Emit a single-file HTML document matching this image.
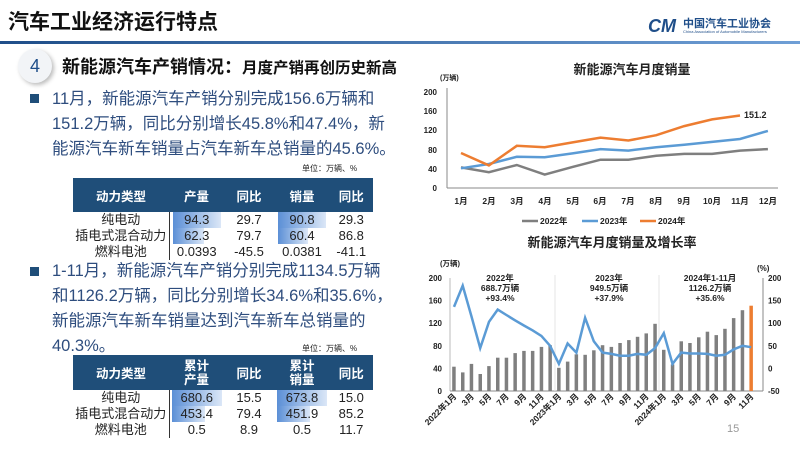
<!DOCTYPE html>
<html><head><meta charset="utf-8"><style>
body{margin:0;width:800px;height:449px;overflow:hidden;background:#fff;font-family:"Liberation Sans","Noto Sans CJK SC",sans-serif;position:relative}
.a{position:absolute;white-space:nowrap}
.txt{color:#2e4d7e;font-size:16.5px;line-height:25px}
table{position:absolute;border-collapse:collapse;font-size:13px;color:#222;text-align:center}
th{background:#1f4e79;color:#fff;font-weight:bold;font-size:12.5px}
td{padding:0;height:16px;line-height:16px}
td.f{border-right:1px solid #333}
.b{background:linear-gradient(90deg,#5b8fd6,#dbe7f7)}
</style></head><body>
<div class="a" style="left:8px;top:6px;font-size:21px;font-weight:bold;color:#111">汽车工业经济运行特点</div>
<div class="a" style="left:648px;top:16px;font-size:18px;font-weight:bold;color:#1f4e89;font-style:italic">CM</div>
<div class="a" style="left:683px;top:15px;font-size:11px;font-weight:bold;color:#1f4e89">中国汽车工业协会</div>
<div class="a" style="left:683px;top:29px;font-size:4px;color:#1f4e89">China Association of Automobile Manufacturers</div>
<div class="a" style="left:0;top:41px;width:800px;height:3px;background:linear-gradient(90deg,#1f4e89,#6f9fd6)"></div>
<div class="a" style="left:18px;top:49px;width:34px;height:34px;border-radius:50%;background:#f2f4f7;box-shadow:2px 2px 4px #bbb;text-align:center;line-height:34px;font-size:18px;color:#1f4e89">4</div>
<div class="a" style="left:62px;top:53px;font-size:18px;font-weight:bold;color:#111">新能源汽车产销情况：<span style="font-size:15.5px">月度产销再创历史新高</span></div>
<div class="a" style="left:30px;top:94px;width:9px;height:9px;background:#1f4e79"></div>
<div class="a txt" style="left:52px;top:87px">11月，新能源汽车产销分别完成156.6万辆和<br>151.2万辆，同比分别增长45.8%和47.4%，新<br>能源汽车新车销量占汽车新车总销量的45.6%。</div>
<div class="a" style="left:302px;top:163px;font-size:8px;color:#222">单位：万辆、%</div>
<table style="left:73px;top:178px;width:300px">
<tr style="height:34px"><th style="width:94px">动力类型</th><th style="width:53px">产量</th><th style="width:48px">同比</th><th style="width:54px">销量</th><th>同比</th></tr>
<tr><td class="f">纯电动</td><td><span class="b" style="display:inline-block;width:48px">94.3</span></td><td>29.7</td><td><span class="b" style="display:inline-block;width:48px">90.8</span></td><td>29.3</td></tr>
<tr><td class="f">插电式混合动力</td><td><span style="display:inline-block;width:48px;background:linear-gradient(90deg,#5b8fd6 0,#dbe7f7 65%,#fff 65%)">62.3</span></td><td>79.7</td><td><span style="display:inline-block;width:48px;background:linear-gradient(90deg,#5b8fd6 0,#dbe7f7 62%,#fff 62%)">60.4</span></td><td>86.8</td></tr>
<tr><td class="f">燃料电池</td><td>0.0393</td><td>-45.5</td><td>0.0381</td><td>-41.1</td></tr>
</table>
<div class="a" style="left:30px;top:267px;width:9px;height:9px;background:#1f4e79"></div>
<div class="a txt" style="left:52px;top:259px">1-11月，新能源汽车产销分别完成1134.5万辆<br>和1126.2万辆，同比分别增长34.6%和35.6%，<br>新能源汽车新车销量达到汽车新车总销量的<br>40.3%。</div>
<div class="a" style="left:302px;top:343px;font-size:8px;color:#222">单位：万辆、%</div>
<table style="left:73px;top:355px;width:300px">
<tr style="height:35px"><th style="width:94px">动力类型</th><th style="width:53px;line-height:14px">累计<br>产量</th><th style="width:48px">同比</th><th style="width:54px;line-height:14px">累计<br>销量</th><th>同比</th></tr>
<tr><td class="f">纯电动</td><td><span class="b" style="display:inline-block;width:50px">680.6</span></td><td>15.5</td><td><span class="b" style="display:inline-block;width:50px">673.8</span></td><td>15.0</td></tr>
<tr><td class="f">插电式混合动力</td><td><span style="display:inline-block;width:50px;background:linear-gradient(90deg,#5b8fd6 0,#dbe7f7 66%,#fff 66%)">453.4</span></td><td>79.4</td><td><span style="display:inline-block;width:50px;background:linear-gradient(90deg,#5b8fd6 0,#dbe7f7 66%,#fff 66%)">451.9</span></td><td>85.2</td></tr>
<tr><td class="f">燃料电池</td><td>0.5</td><td>8.9</td><td>0.5</td><td>11.7</td></tr>
</table>

<svg class="a" style="left:0;top:0" width="800" height="449" font-family="Liberation Sans,Noto Sans CJK SC,sans-serif">
<g font-size="13" font-weight="bold" fill="#222" text-anchor="middle"><text x="632" y="74">新能源汽车月度销量</text><text x="612" y="247">新能源汽车月度销量及增长率</text></g>
<!-- chart1 -->
<text x="440" y="80" font-size="7" font-weight="bold" fill="#222">(万辆)</text>
<g font-size="8" font-weight="bold" fill="#222" text-anchor="end">
<text x="437" y="95">200</text><text x="437" y="114">160</text><text x="437" y="133">120</text><text x="437" y="153">80</text><text x="437" y="172">40</text><text x="437" y="191">0</text></g>
<line x1="447" y1="88" x2="447" y2="188" stroke="#888"/><line x1="447" y1="188" x2="778" y2="188" stroke="#888"/>
<g font-size="8.5" font-weight="bold" fill="#222" text-anchor="middle">
<text x="461" y="204">1月</text><text x="489" y="204">2月</text><text x="517" y="204">3月</text><text x="545" y="204">4月</text><text x="573" y="204">5月</text><text x="600" y="204">6月</text><text x="628" y="204">7月</text><text x="656" y="204">8月</text><text x="684" y="204">9月</text><text x="712" y="204">10月</text><text x="740" y="204">11月</text><text x="768" y="204">12月</text></g>
<polyline fill="none" stroke="#7f7f7f" stroke-width="2.5" points="461,167.4 488.9,172.2 516.8,165 544.7,174.6 572.6,166.9 600.5,159.7 628.4,159.7 656.3,155.8 684.2,153.9 712.1,153.9 740,150.6 767.9,149.1"/>
<polyline fill="none" stroke="#5b9bd5" stroke-width="2.5" points="461,168.3 488.9,164 516.8,156.8 544.7,157.3 572.6,153.4 600.5,149.1 628.4,150.6 656.3,147.2 684.2,144.8 712.1,141.9 740,139 767.9,130.9"/>
<polyline fill="none" stroke="#ed7d31" stroke-width="2.5" points="461,153 488.9,165.4 516.8,145.8 544.7,147.2 572.6,142.4 600.5,137.6 628.4,140.5 656.3,135.2 684.2,126.1 712.1,119.4 740,115.5"/>
<text x="744" y="118" font-size="9" font-weight="bold" fill="#222">151.2</text>
<g font-size="8.5" font-weight="bold" fill="#222">
<line x1="522" y1="221" x2="538" y2="221" stroke="#7f7f7f" stroke-width="2.5"/><text x="540" y="224">2022年</text>
<line x1="582" y1="221" x2="598" y2="221" stroke="#5b9bd5" stroke-width="2.5"/><text x="600" y="224">2023年</text>
<line x1="640" y1="221" x2="656" y2="221" stroke="#ed7d31" stroke-width="2.5"/><text x="658" y="224">2024年</text></g>
<!-- chart2 -->
<text x="440" y="266" font-size="7.5" font-weight="bold" fill="#222">(万辆)</text>
<text x="757" y="271" font-size="8" font-weight="bold" fill="#222">(%)</text>
<g font-size="8" font-weight="bold" fill="#222" text-anchor="end">
<text x="442" y="281">200</text><text x="442" y="303.6">160</text><text x="442" y="326.2">120</text><text x="442" y="348.8">80</text><text x="442" y="371.4">40</text><text x="442" y="394">0</text></g>
<g font-size="8" font-weight="bold" fill="#222" text-anchor="start">
<text x="768" y="281">200</text><text x="768" y="303.6">150</text><text x="768" y="326.2">100</text><text x="768" y="348.8">50</text><text x="768" y="371.4">0</text><text x="768" y="394">-50</text></g>
<line x1="450" y1="278" x2="450" y2="391" stroke="#bbb"/><line x1="763" y1="278" x2="763" y2="391" stroke="#888"/>
<line x1="450" y1="391" x2="763" y2="391" stroke="#888"/>
<line x1="555" y1="275" x2="555" y2="391" stroke="#e4e4e4"/><line x1="659" y1="275" x2="659" y2="391" stroke="#e4e4e4"/>
<g fill="#7f7f7f">
<rect x="452.2" y="366.7" width="3.5" height="24.3"/><rect x="461" y="372.4" width="3.5" height="18.6"/><rect x="469.7" y="363.9" width="3.5" height="27.1"/><rect x="478.5" y="374" width="3.5" height="17"/><rect x="487.2" y="366.1" width="3.5" height="24.9"/><rect x="496" y="357.7" width="3.5" height="33.3"/><rect x="504.7" y="357.7" width="3.5" height="33.3"/><rect x="513.4" y="353.1" width="3.5" height="37.9"/><rect x="522.2" y="350.9" width="3.5" height="40.1"/><rect x="530.9" y="350.9" width="3.5" height="40.1"/><rect x="539.7" y="346.9" width="3.5" height="44.1"/><rect x="548.4" y="345.2" width="3.5" height="45.8"/>
<rect x="557.1" y="367.8" width="3.5" height="23.2"/><rect x="565.9" y="361.6" width="3.5" height="29.4"/><rect x="574.6" y="354.3" width="3.5" height="36.7"/><rect x="583.4" y="354.8" width="3.5" height="36.2"/><rect x="592.1" y="350.3" width="3.5" height="40.7"/><rect x="600.8" y="345.2" width="3.5" height="45.8"/><rect x="609.6" y="346.9" width="3.5" height="44.1"/><rect x="618.3" y="343" width="3.5" height="48"/><rect x="627.1" y="340.1" width="3.5" height="50.9"/><rect x="635.8" y="336.8" width="3.5" height="54.2"/><rect x="644.5" y="333.4" width="3.5" height="57.6"/><rect x="653.3" y="323.8" width="3.5" height="67.2"/>
<rect x="662" y="349.8" width="3.5" height="41.2"/><rect x="670.8" y="364.4" width="3.5" height="26.6"/><rect x="679.5" y="341.3" width="3.5" height="49.7"/><rect x="688.2" y="343" width="3.5" height="48"/><rect x="697" y="337.3" width="3.5" height="53.7"/><rect x="705.7" y="331.7" width="3.5" height="59.3"/><rect x="714.5" y="335.1" width="3.5" height="55.9"/><rect x="723.2" y="328.8" width="3.5" height="62.2"/><rect x="731.9" y="318.1" width="3.5" height="72.9"/><rect x="740.7" y="310.2" width="3.5" height="80.8"/></g>
<rect x="749.4" y="305.7" width="3.5" height="85.3" fill="#ed7d31"/>
<polyline fill="none" stroke="#5b9bd5" stroke-width="2.5" points="454,306.9 462.7,285.7 471.5,316.5 480.2,348.1 489,321.8 497.7,309.6 506.4,315 515.2,320.4 523.9,325.5 532.7,330.4 541.4,335.9 550.1,345.8 558.9,363.9 567.6,343.5 576.4,352.6 585.1,317.8 593.8,341.3 602.6,352.6 611.3,353.9 620.1,355.7 628.8,355.7 637.5,353.9 646.3,354.8 655,348.1 663.8,333.1 672.5,363.9 681.2,352.6 690,353.5 698.7,353.5 707.5,353.9 716.2,355.7 724.9,354.8 733.7,349.4 742.4,345.8 751.2,347.2"/>
<g font-size="8.5" font-weight="bold" fill="#222" text-anchor="middle">
<text x="500" y="281">2022年</text><text x="500" y="291">688.7万辆</text><text x="500" y="301">+93.4%</text>
<text x="609" y="281">2023年</text><text x="609" y="291">949.5万辆</text><text x="609" y="301">+37.9%</text>
<text x="710" y="281">2024年1-11月</text><text x="710" y="291">1126.2万辆</text><text x="710" y="301">+35.6%</text></g>
<g font-size="8.5" font-weight="bold" fill="#222" text-anchor="end">
<text transform="translate(457,397) rotate(-45)">2022年1月</text><text transform="translate(474.5,397) rotate(-45)">3月</text><text transform="translate(492,397) rotate(-45)">5月</text><text transform="translate(509.4,397) rotate(-45)">7月</text><text transform="translate(527,397) rotate(-45)">9月</text><text transform="translate(544.4,397) rotate(-45)">11月</text>
<text transform="translate(562,397) rotate(-45)">2023年1月</text><text transform="translate(579.4,397) rotate(-45)">3月</text><text transform="translate(597,397) rotate(-45)">5月</text><text transform="translate(614.3,397) rotate(-45)">7月</text><text transform="translate(631.8,397) rotate(-45)">9月</text><text transform="translate(649.3,397) rotate(-45)">11月</text>
<text transform="translate(666.8,397) rotate(-45)">2024年1月</text><text transform="translate(684.2,397) rotate(-45)">3月</text><text transform="translate(701.7,397) rotate(-45)">5月</text><text transform="translate(719.2,397) rotate(-45)">7月</text><text transform="translate(736.7,397) rotate(-45)">9月</text><text transform="translate(754.2,397) rotate(-45)">11月</text></g>
<text x="727" y="432" font-size="11" fill="#999">15</text>
</svg>
</body></html>
